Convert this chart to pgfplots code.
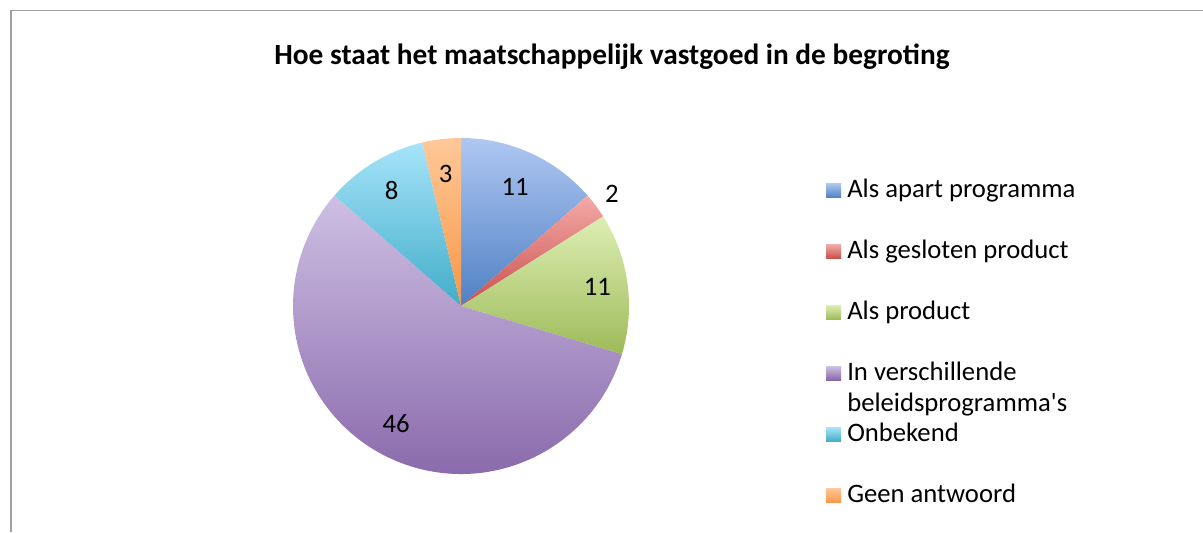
\documentclass[border=0pt]{standalone}
\usepackage{pgfplots}
\pgfplotsset{compat=1.18}
\usepackage{pgfplotstable}
\usepackage{fontspec}
\setmainfont{Carlito}

\definecolor{top0}{HTML}{AFC7F2}\definecolor{bot0}{HTML}{4F81C4}
\definecolor{top1}{HTML}{F4AAA8}\definecolor{bot1}{HTML}{C9504D}
\definecolor{top2}{HTML}{DDEEB4}\definecolor{bot2}{HTML}{9DBB58}
\definecolor{top3}{HTML}{CEBFE3}\definecolor{bot3}{HTML}{8565A8}
\definecolor{top4}{HTML}{A6E4F9}\definecolor{bot4}{HTML}{42ADC9}
\definecolor{top5}{HTML}{FFC899}\definecolor{bot5}{HTML}{F79646}
\definecolor{frame}{HTML}{A0A0A0}

% slice values (clockwise from 12 o'clock); lpos = label distance / radius
\pgfplotstableread[col sep=comma]{
value,lpos
11,0.78
2,1.12
11,0.82
46,0.80
8,0.80
3,0.79
}\piedata

% pie geometry in pixel units of the axis
\def\cx{461}\def\cy{226}\def\rpx{168}

\def\total{0}
\pgfplotsforeachungrouped \idx in {0,...,5}{%
  \pgfplotstablegetelem{\idx}{value}\of\piedata
  \pgfmathsetmacro\total{\total+\pgfplotsretval}%
}
\def\cum{0}
\pgfplotsforeachungrouped \idx in {0,...,5}{%
  \pgfplotstablegetelem{\idx}{value}\of\piedata \let\myval\pgfplotsretval
  \pgfplotstablegetelem{\idx}{lpos}\of\piedata \let\mylp\pgfplotsretval
  \pgfmathsetmacro\mysa{90-360*(\cum/\total)}%
  \pgfmathsetmacro\myea{90-360*((\cum+\myval)/\total)}%
  \pgfmathsetmacro\myma{(\mysa+\myea)/2}%
  \pgfmathsetmacro\mylx{\cx+\rpx*\mylp*cos(\myma)}%
  \pgfmathsetmacro\myly{\cy+\rpx*\mylp*sin(\myma)}%
  \expandafter\xdef\csname sa\idx\endcsname{\mysa}%
  \expandafter\xdef\csname ea\idx\endcsname{\myea}%
  \expandafter\xdef\csname lx\idx\endcsname{\mylx}%
  \expandafter\xdef\csname ly\idx\endcsname{\myly}%
  \expandafter\xdef\csname val\idx\endcsname{\myval}%
  \pgfmathsetmacro\cum{\cum+\myval}%
}

\begin{document}
\begin{tikzpicture}
\useasboundingbox (0,0) rectangle (902.25pt,399pt);
\begin{axis}[
  at={(0,0)}, anchor=south west,
  scale only axis, width=902.25pt, height=399pt,
  xmin=0, xmax=1203, ymin=0, ymax=532,
  hide axis, clip=false,
  legend style={at={(axis cs:826,354.3)}, anchor=north west,
    draw=none, fill=none, inner sep=0pt, outer sep=0pt,
    column sep=0pt, row sep=26.75pt,
    font=\fontsize{20}{24}\selectfont,
    nodes={inner sep=0pt, text height=14.5pt, text depth=4.5pt}},
  legend cell align=left,
  legend image code/.code={%
    \shade[#1, draw=none] (0pt,-5.25pt) rectangle (11.25pt,5.25pt);
    \path (15.75pt,0pt);},
]
% frame
\draw[frame, line width=1.2pt] (axis cs:11,0) -- (axis cs:11,521.5) -- (axis cs:1203,521.5);
% title
\node[anchor=base, font=\fontsize{22}{26}\selectfont\bfseries] at (axis cs:612,467.3)
  {Hoe staat het maatschappelijk vastgoed in de begroting};
% slices
\pgfplotsinvokeforeach{0,...,5}{%
  \shade[top color=top#1, bottom color=bot#1]
    (axis cs:\cx,\cy) -- ++(\csname sa#1\endcsname:126pt)
    arc[start angle=\csname sa#1\endcsname, end angle=\csname ea#1\endcsname, radius=126pt]
    -- cycle;
}
% data labels
\pgfplotsinvokeforeach{0,...,5}{%
  \node[font=\fontsize{20}{24}\selectfont, inner sep=0pt]
    at (axis cs:\csname lx#1\endcsname,\csname ly#1\endcsname) {\csname val#1\endcsname};
}
\addlegendimage{top color=top0, bottom color=bot0}
\addlegendentry{Als apart programma}
\addlegendimage{top color=top1, bottom color=bot1}
\addlegendentry{Als gesloten product}
\addlegendimage{top color=top2, bottom color=bot2}
\addlegendentry{Als product}
\addlegendimage{top color=top3, bottom color=bot3}
\addlegendentry{\makebox[0pt][l]{\raisebox{-23.25pt}[0pt][0pt]{beleidsprogramma\textquotesingle s}}In verschillende}
\addlegendimage{top color=top4, bottom color=bot4}
\addlegendentry{Onbekend}
\addlegendimage{top color=top5, bottom color=bot5}
\addlegendentry{Geen antwoord}
\end{axis}
\end{tikzpicture}
\end{document}
